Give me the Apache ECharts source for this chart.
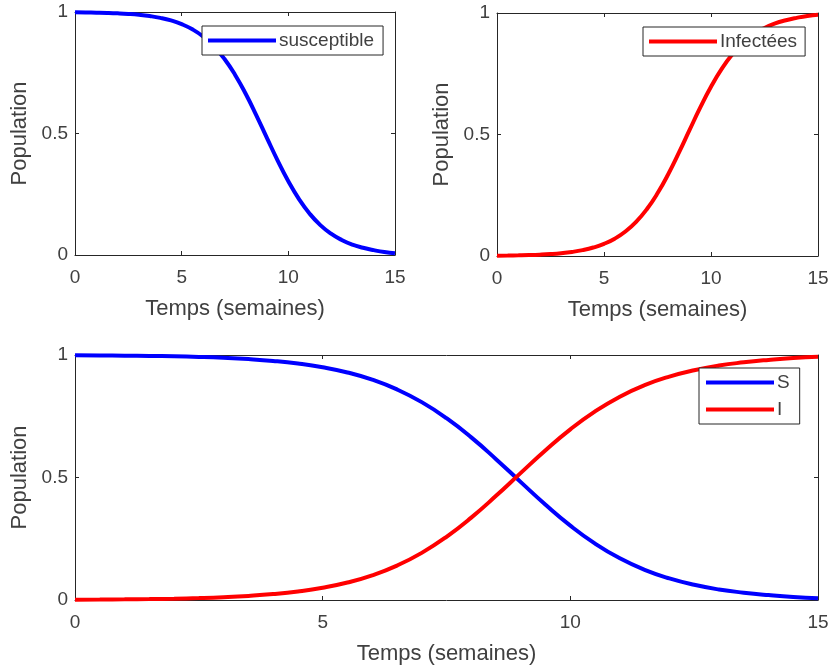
<!DOCTYPE html>
<html>
<head>
<meta charset="utf-8">
<script src="https://cdn.jsdelivr.net/npm/echarts@6/dist/echarts.min.js"></script>
<style>
html,body{margin:0;padding:0;background:#fff;}
#chart{width:832px;height:667px;}
</style>
</head>
<body>
<div id="chart"></div>
<script>
// Time in weeks
const weeks = [0,0.5,1,1.5,2,2.5,3,3.5,4,4.5,5,5.5,6,6.5,7,7.5,8,8.5,9,9.5,10,10.5,11,11.5,12,12.5,13,13.5,14,14.5,15];
// Susceptible fraction
const susceptible = [0.9988,0.9982,0.9974,0.9963,0.9946,0.9921,0.9885,0.9833,0.9759,0.9652,0.950,0.9287,0.8993,0.8596,0.8076,0.7421,0.6637,0.5749,0.4811,0.3887,0.3035,0.230,0.170,0.123,0.088,0.062,0.043,0.030,0.020,0.012,0.007];
// Infected fraction
const infected = [0.0012,0.0018,0.0026,0.0037,0.0054,0.0079,0.0115,0.0167,0.0241,0.0348,0.050,0.0713,0.1007,0.1404,0.1924,0.2579,0.3363,0.4251,0.5189,0.6113,0.6965,0.770,0.830,0.877,0.912,0.938,0.957,0.970,0.980,0.988,0.993];
const xTicks = [0,5,10,15];
const yTicks = [0,0.5,1];
const seriesNames = ['susceptible','Infectées','S','I'];

const FONT = 'Liberation Sans';
const TXT = '#404040';
const AX = '#262626';

function pairs(ys){ return weeks.map((t,i)=>[t, ys[i]]); }

const grids = [
  {left:75, top:12, width:320, height:243},
  {left:497, top:13, width:321, height:243},
  {left:75, top:355, width:743, height:245}
];

const xAxes = [], yAxes = [];
grids.forEach((g, gi) => {
  xAxes.push({
    type:'value', gridIndex:gi, position:'bottom',
    min:xTicks[0], max:xTicks[xTicks.length-1], interval:xTicks[1]-xTicks[0],
    name:'Temps (semaines)', nameLocation:'middle', nameGap:43,
    nameTextStyle:{fontFamily:FONT, fontSize:22, color:TXT},
    axisLine:{show:true, lineStyle:{color:AX, width:1}},
    axisTick:{show:true, inside:true, length:4, lineStyle:{color:AX}},
    axisLabel:{fontFamily:FONT, fontSize:19, color:TXT, margin:13},
    splitLine:{show:false}
  });
  xAxes.push({
    type:'value', gridIndex:gi, position:'top',
    min:xTicks[0], max:xTicks[xTicks.length-1], interval:xTicks[1]-xTicks[0],
    axisLine:{show:true, onZero:false, lineStyle:{color:AX, width:1}},
    axisTick:{show:true, inside:true, length:4, lineStyle:{color:AX}},
    axisLabel:{show:false}, splitLine:{show:false}
  });
  yAxes.push({
    type:'value', gridIndex:gi, position:'left',
    min:yTicks[0], max:yTicks[yTicks.length-1], interval:yTicks[1]-yTicks[0],
    name:'Population', nameLocation:'middle', nameGap:44,
    nameTextStyle:{fontFamily:FONT, fontSize:22, color:TXT},
    axisLine:{show:true, onZero:false, lineStyle:{color:AX, width:1}},
    axisTick:{show:true, inside:true, length:4, lineStyle:{color:AX}},
    axisLabel:{fontFamily:FONT, fontSize:19, color:TXT, margin:7},
    splitLine:{show:false}
  });
  yAxes.push({
    type:'value', gridIndex:gi, position:'right',
    min:yTicks[0], max:yTicks[yTicks.length-1], interval:yTicks[1]-yTicks[0],
    axisLine:{show:true, onZero:false, lineStyle:{color:AX, width:1}},
    axisTick:{show:true, inside:true, length:4, lineStyle:{color:AX}},
    axisLabel:{show:false}, splitLine:{show:false}
  });
});

function lineSeries(name, data, color, gi){
  return {
    name:name, type:'line', xAxisIndex:gi*2, yAxisIndex:gi*2,
    data:pairs(data), smooth:true, symbol:'none', clip:false,
    lineStyle:{color:color, width:4}, itemStyle:{color:color},
    z:3, silent:true
  };
}

const legendBase = {
  orient:'vertical', icon:'rect', itemWidth:68, itemHeight:4, itemGap:8,
  backgroundColor:'#fff', borderColor:AX, borderWidth:1, borderRadius:0,
  textStyle:{fontFamily:FONT, fontSize:19, color:TXT, padding:[0,0,0,-2]},
  selectedMode:false, z:10
};

const option = {
  backgroundColor:'#fff',
  animation:false,
  grid:grids,
  xAxis:xAxes,
  yAxis:yAxes,
  legend:[
    Object.assign({}, legendBase, {data:[seriesNames[0]], left:202, top:26, padding:[5,9,5,6]}),
    Object.assign({}, legendBase, {data:[seriesNames[1]], left:643, top:27, padding:[5,8,5,6]}),
    Object.assign({}, legendBase, {data:[seriesNames[2], seriesNames[3]], left:699, top:368, padding:[5,10,5,7]})
  ],
  series:[
    lineSeries(seriesNames[0], susceptible, '#0000ff', 0),
    lineSeries(seriesNames[1], infected, '#ff0000', 1),
    lineSeries(seriesNames[2], susceptible, '#0000ff', 2),
    lineSeries(seriesNames[3], infected, '#ff0000', 2)
  ]
};

const chart = echarts.init(document.getElementById('chart'), null, {renderer:'canvas'});
chart.setOption(option);
</script>
</body>
</html>
